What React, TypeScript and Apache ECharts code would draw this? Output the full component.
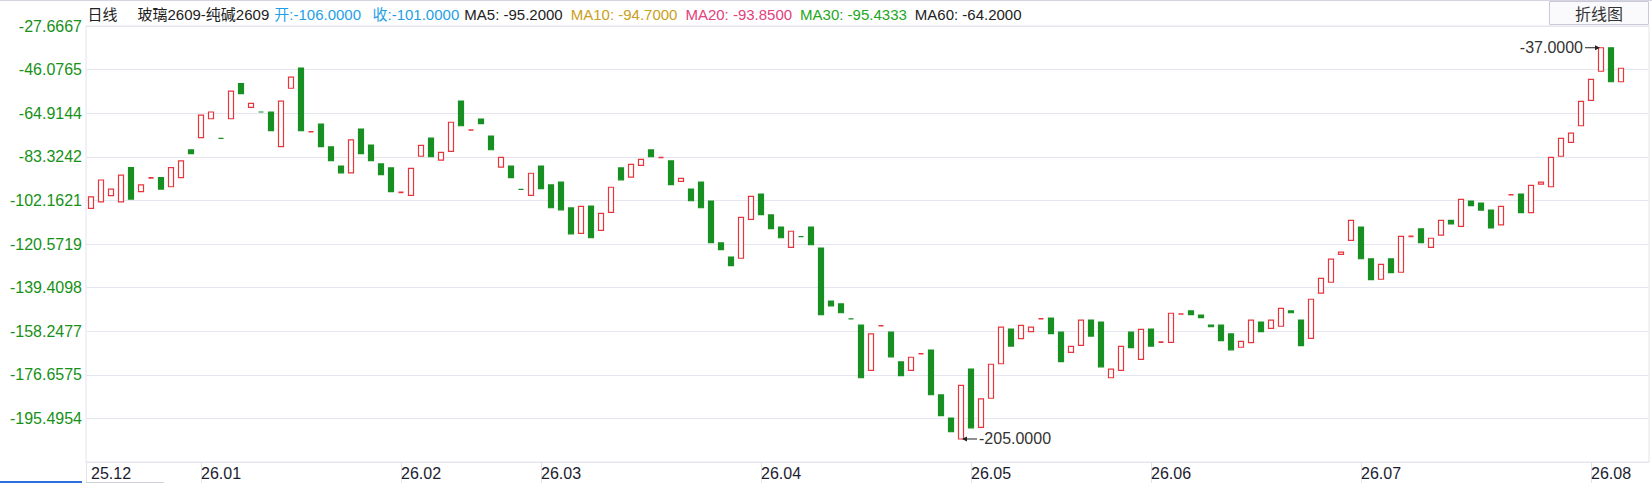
import React, { useEffect, useRef } from "react";
import * as echarts from "echarts";

const monthLabels = ["25.12", "26.01", "26.02", "26.03", "26.04", "26.05", "26.06", "26.07", "26.08"];
const monthDays = [11, 20, 14, 22, 21, 18, 21, 23, 4];

const openValues = [
  -106, -103.2, -100.5, -103.2, -88.5, -98.8, -92.9, -92.8, -96.7, -92.8,
  -80.9, -75.6, -67.5, -75.9, -67.5, -52.4, -62.6, -64.6, -64.6, -79.5,
  -54.4, -45.7, -73.1, -69.8, -79.6, -87.8, -90.7, -71.9, -78.8, -86.9,
  -88.6, -99.1, -100.4, -83.6, -75.8, -85.3, -81.5, -59.9, -72.3, -67.6,
  -74.9, -88.3, -87.8, -97.8, -100.4, -87.8, -95.9, -94.7, -105.8, -116.7,
  -105.0, -115.4, -107.7, -88.6, -92.6, -87.5, -80.9, -84.1, -85.6, -94.4,
  -97.7, -94.7, -102.8, -120.8, -126.9, -127.4, -110.7, -99.8, -108.8, -114.0,
  -122.7, -118.1, -114.0, -123.0, -145.8, -147.0, -153.4, -156.1, -175.5, -156.4,
  -159.1, -171.9, -175.5, -168.4, -166.8, -186.1, -196.0, -205.0, -175.0, -200.0,
  -187.5, -172.7, -157.8, -161.9, -158.9, -153.4, -153.1, -159.1, -167.8, -164.8,
  -153.9, -154.8, -178.7, -175.5, -159.1, -170.8, -157.8, -163.4, -163.5, -151.3,
  -150.0, -151.8, -156.1, -156.1, -159.9, -165.6, -163.6, -154.8, -157.5, -156.6,
  -150.0, -153.9, -161.8, -142.4, -137.7, -125.7, -119.7, -114.0, -127.7, -136.4,
  -127.7, -133.4, -118.0, -114.8, -122.7, -117.5, -111.1, -113.7, -102.8, -103.7,
  -106.7, -113.1, -100.1, -99.8, -107.8, -95.6, -96.7, -83.6, -77.6, -70.5,
  -59.6, -47.1, -37.0, -51.6,
];
const closeValues = [
  -101, -93.8, -97.7, -91.7, -102.0, -95.9, -92.9, -97.7, -88.5, -85.6,
  -82.5, -65.9, -64.6, -75.9, -55.6, -56.7, -60.9, -64.6, -72.6, -59.9,
  -49.6, -72.6, -73.1, -79.5, -85.5, -90.7, -76.6, -82.5, -85.5, -91.5,
  -98.8, -99.1, -88.8, -78.9, -83.8, -81.9, -69.0, -70.5, -72.3, -69.6,
  -80.8, -84.1, -92.8, -97.8, -90.9, -97.5, -105.7, -106.6, -116.9, -105.1,
  -118.6, -108.1, -96.9, -93.7, -87.1, -84.9, -83.8, -84.1, -95.8, -93.1,
  -102.7, -105.7, -120.7, -123.7, -130.6, -109.8, -100.8, -108.7, -114.7, -118.6,
  -115.8, -118.1, -121.6, -151.6, -147.8, -150.8, -153.4, -178.7, -159.9, -156.4,
  -169.7, -177.8, -169.9, -168.4, -186.0, -195.0, -201.9, -182.0, -200.2, -187.8,
  -172.9, -157.0, -165.1, -156.2, -157.0, -153.4, -159.8, -171.8, -165.2, -154.0,
  -160.8, -174.0, -175.0, -165.2, -165.8, -157.9, -165.1, -163.4, -151.0, -151.3,
  -151.6, -152.9, -156.8, -162.8, -166.7, -163.1, -154.0, -158.9, -154.0, -148.9,
  -150.8, -164.9, -145.0, -136.0, -127.8, -124.8, -111.1, -127.6, -136.6, -130.0,
  -133.6, -118.0, -118.0, -120.7, -118.8, -111.1, -112.6, -102.1, -104.8, -106.7,
  -114.4, -105.1, -100.1, -107.8, -96.1, -94.7, -84.1, -75.9, -73.7, -60.0,
  -50.6, -37.0, -51.6, -45.8,
];
// flat candles (open == close) drawn in the rising colour
const upDojiIdx = [6, 22, 31, 38, 57, 79, 83, 95, 107, 109, 132, 142];

const yTickLabels = [
  "-27.6667", "-46.0765", "-64.9144", "-83.3242", "-102.1621",
  "-120.5719", "-139.4098", "-158.2477", "-176.6575", "-195.4954",
];
const axisMax = -27.6667;
const axisMin = -214.88;

const highMark = { index: 151, value: -37, text: "-37.0000" };
const lowMark = { index: 87, value: -205, text: "-205.0000" };

const headerParts = [
  { text: "日线", color: "#222222" },
  { text: "玻璃2609-纯碱2609", color: "#222222" },
  { text: "开:-106.0000", color: "#1e9fe6" },
  { text: "收:-101.0000", color: "#1e9fe6" },
  { text: "MA5: -95.2000", color: "#222222" },
  { text: "MA10: -94.7000", color: "#c9a021" },
  { text: "MA20: -93.8500", color: "#e3407c" },
  { text: "MA30: -95.4333", color: "#22a722" },
  { text: "MA60: -64.2000", color: "#222222" },
];
const headerX = [87.5, 137.5, 274.3, 372.5, 464.3, 570.7, 685.4, 800.1, 914.8];

const RED = "#e8343c";
const GREEN = "#188f22";
const FONT = 'Arial, "Liberation Sans", "Noto Sans CJK SC", sans-serif';

export default function App() {
  const ref = useRef<HTMLDivElement>(null);

  useEffect(() => {
    const el = ref.current;
    if (!el) return;
    const chart = echarts.init(el, null, { renderer: "svg" });

    const categories: string[] = [];
    const monthStart = new Set<number>();
    monthLabels.forEach((m, mi) => {
      monthStart.add(categories.length);
      for (let d = 0; d < monthDays[mi]; d++) categories.push(m + "/" + (d + 1));
    });

    const data = openValues.map((o, i) => {
      const c = closeValues[i];
      const item: any = { value: [o, c, Math.min(o, c), Math.max(o, c)] };
      if (o === c) {
        const up = upDojiIdx.includes(i);
        const col = up ? RED : GREEN;
        const fill = up ? "#ffffff" : GREEN;
        item.itemStyle = {
          color: fill,
          color0: fill,
          borderColor: col,
          borderColor0: col,
          borderColorDoji: col,
          borderWidth: up ? 1.6 : 1.2,
        };
      }
      return item;
    });

    const option: any = {
      animation: false,
      backgroundColor: "#ffffff",
      textStyle: { fontFamily: FONT },
      grid: [
        { left: 86, top: 26, width: 1540, bottom: 21, show: false },
        {
          left: 86,
          top: 26,
          right: 3,
          bottom: 21,
          show: true,
          borderColor: "#e2e2ec",
          borderWidth: 1,
          backgroundColor: "transparent",
        },
      ],
      xAxis: [
        {
          type: "category",
          gridIndex: 0,
          data: categories,
          boundaryGap: true,
          axisLine: { show: false },
          axisTick: {
            show: true,
            alignWithLabel: true,
            length: 21,
            interval: (idx: number) => monthStart.has(idx) && idx !== 0,
            lineStyle: { color: "#e2e2ec", width: 1 },
          },
          axisLabel: {
            show: true,
            interval: (idx: number) => monthStart.has(idx),
            formatter: (v: string) => v.split("/")[0],
            align: "left",
            color: "#1c1c30",
            fontSize: 16,
            fontFamily: FONT,
            margin: 3,
          },
          splitLine: { show: false },
        },
        {
          type: "value",
          gridIndex: 1,
          min: 0,
          max: 1,
          show: false,
        },
      ],
      yAxis: [
        {
          type: "value",
          gridIndex: 0,
          min: axisMin,
          max: axisMax,
          show: false,
          splitLine: { show: false },
        },
        {
          type: "value",
          gridIndex: 1,
          min: 0,
          max: 10,
          interval: 1,
          axisLine: { show: false },
          axisTick: { show: false },
          splitLine: { show: true, lineStyle: { color: "#e6e6f0", width: 1 } },
          axisLabel: {
            color: "#179117",
            fontSize: 16,
            fontFamily: FONT,
            margin: 4,
            formatter: (v: number) => yTickLabels[10 - Math.round(v)] || "",
          },
        },
      ],
      series: [
        {
          type: "candlestick",
          xAxisIndex: 0,
          yAxisIndex: 0,
          data,
          barWidth: 5.6,
          itemStyle: {
            color: "#ffffff",
            color0: GREEN,
            borderColor: RED,
            borderColor0: GREEN,
            borderWidth: 1.2,
          },
        },
      ],
    };

    chart.setOption(option);

    const hp = chart.convertToPixel({ seriesIndex: 0 }, [highMark.index, highMark.value]) as number[];
    const lp = chart.convertToPixel({ seriesIndex: 0 }, [lowMark.index, lowMark.value]) as number[];

    const graphics: any[] = [
      { type: "line", z: 10, shape: { x1: 0, y1: 0.5, x2: 1652, y2: 0.5 }, style: { stroke: "#d4d4e0", lineWidth: 1 } },
      { type: "line", z: 10, shape: { x1: 86.5, y1: 462, x2: 86.5, y2: 483 }, style: { stroke: "#e2e2ec", lineWidth: 1 } },
      { type: "rect", z: 10, shape: { x: 0, y: 481, width: 82, height: 2 }, style: { fill: "#2a6fdb" } },
      { type: "line", z: 10, shape: { x1: 86, y1: 482.5, x2: 164, y2: 482.5 }, style: { stroke: "#d0d0dc", lineWidth: 1 } },
      {
        type: "rect",
        z: 10,
        shape: { x: 1549.5, y: 1.5, width: 99, height: 23 },
        style: { fill: "#fafafd", stroke: "#c9c9da", lineWidth: 1 },
      },
      {
        type: "text",
        z: 11,
        x: 1599,
        y: 14,
        style: { text: "折线图", fill: "#333333", font: "16px " + FONT, align: "center", verticalAlign: "middle" },
      },
      // high mark
      { type: "line", z: 11, shape: { x1: hp[0] - 16, y1: hp[1], x2: hp[0] - 4, y2: hp[1] }, style: { stroke: "#222", lineWidth: 1 } },
      {
        type: "polygon",
        z: 11,
        shape: { points: [[hp[0] - 1, hp[1]], [hp[0] - 6, hp[1] - 2.5], [hp[0] - 6, hp[1] + 2.5]] },
        style: { fill: "#222" },
      },
      {
        type: "text",
        z: 11,
        x: hp[0] - 18,
        y: hp[1],
        style: { text: highMark.text, fill: "#333333", font: "16px " + FONT, align: "right", verticalAlign: "middle" },
      },
      // low mark
      { type: "line", z: 11, shape: { x1: lp[0] + 4, y1: lp[1], x2: lp[0] + 16, y2: lp[1] }, style: { stroke: "#222", lineWidth: 1 } },
      {
        type: "polygon",
        z: 11,
        shape: { points: [[lp[0] + 1, lp[1]], [lp[0] + 6, lp[1] - 2.5], [lp[0] + 6, lp[1] + 2.5]] },
        style: { fill: "#222" },
      },
      {
        type: "text",
        z: 11,
        x: lp[0] + 18,
        y: lp[1],
        style: { text: lowMark.text, fill: "#333333", font: "16px " + FONT, align: "left", verticalAlign: "middle" },
      },
    ];

    headerParts.forEach((p, i) => {
      graphics.push({
        type: "text",
        z: 11,
        x: headerX[i],
        y: 14,
        style: { text: p.text, fill: p.color, font: "15px " + FONT, align: "left", verticalAlign: "middle" },
      });
    });

    chart.setOption({ graphic: graphics });

    return () => {
      chart.dispose();
    };
  }, []);

  return (
    <div
      ref={ref}
      style={{ position: "absolute", left: 0, top: 0, width: 1652, height: 483, background: "#ffffff" }}
    />
  );
}
